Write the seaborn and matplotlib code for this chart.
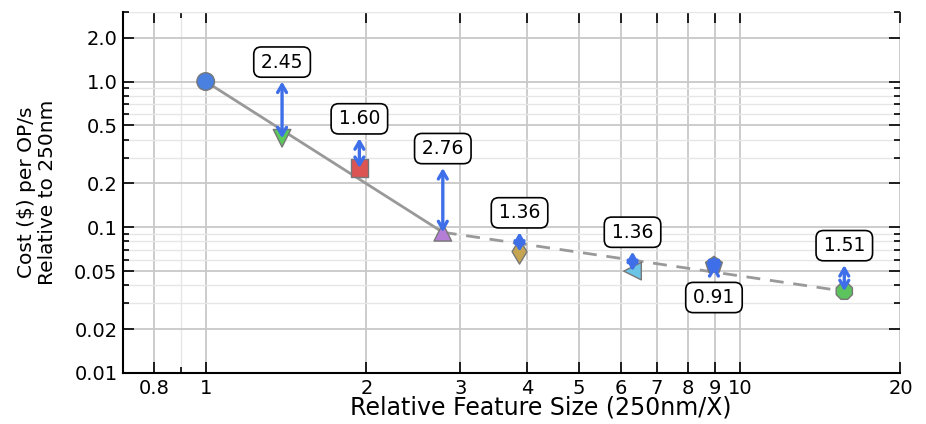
import numpy as np
import pandas as pd
import matplotlib
matplotlib.use("Agg")
import matplotlib.pyplot as plt
from matplotlib.ticker import FixedLocator, NullFormatter, LogLocator
import seaborn as sns

# ---- data ----
nodes = ["250nm", "180nm", "130nm", "90nm", "65nm", "40nm", "28nm", "16nm"]
rel_size = [1.0, 1.39, 1.94, 2.78, 3.87, 6.3, 8.95, 15.7]
cost = [1.0, 0.408, 0.255, 0.0924, 0.068, 0.050, 0.055, 0.0364]
ratio_labels = ["2.45", "1.60", "2.76", "1.36", "1.36", "0.91", "1.51"]

x_ticks = [0.8, 1, 2, 3, 4, 5, 6, 7, 8, 9, 10, 20]
x_tick_labels = ["0.8", "1", "2", "3", "4", "5", "6", "7", "8", "9", "10", "20"]
y_ticks = [0.01, 0.02, 0.05, 0.1, 0.2, 0.5, 1.0, 2.0]
y_tick_labels = ["0.01", "0.02", "0.05", "0.1", "0.2", "0.5", "1.0", "2.0"]

# ---- styles ----
marker_map = {"250nm": "o", "180nm": "v", "130nm": "s", "90nm": "^",
              "65nm": "d", "40nm": "<", "28nm": "p", "16nm": "8"}
color_map = {"250nm": "#4a80e0", "180nm": "#5cc95c", "130nm": "#dc5552",
             "90nm": "#b57ed6", "65nm": "#c6a552", "40nm": "#6bc3e6",
             "28nm": "#3f70e8", "16nm": "#5dc35d"}
arrow_blue = "#3f6fe8"

sns.set_style("ticks")
plt.rcParams["font.family"] = ["DejaVu Sans"]
plt.rcParams["text.color"] = "black"
plt.rcParams["axes.labelcolor"] = "black"
plt.rcParams["xtick.color"] = "black"
plt.rcParams["ytick.color"] = "black"

df = pd.DataFrame({"node": nodes, "size": rel_size, "cost": cost})

fig = plt.figure(figsize=(9.26, 4.24), dpi=100)
ax = fig.add_axes([0.1328, 0.1203, 0.8396, 0.8514])
ax.set_xscale("log")
ax.set_yscale("log")

# trend lines
sns.lineplot(x=[rel_size[0], rel_size[3]], y=[cost[0], cost[3]], ax=ax,
             color="#999999", lw=2, zorder=3)
sns.lineplot(x=[rel_size[3], rel_size[7]], y=[cost[3], cost[7]], ax=ax,
             color="#999999", lw=2, linestyle=(0, (5, 3.5)), zorder=3)

sns.scatterplot(data=df, x="size", y="cost", hue="node", style="node",
                markers=marker_map, palette=color_map, s=160,
                edgecolor="#777777", linewidth=1, legend=False, ax=ax, zorder=5)

# ratio arrows and boxed labels
for i, lab in enumerate(ratio_labels):
    xi = rel_size[i + 1]
    y_prev = cost[i]
    y_cur = cost[i + 1]
    ax.annotate("", xy=(xi, y_cur), xytext=(xi, y_prev),
                arrowprops=dict(arrowstyle="<->,head_length=0.55,head_width=0.32",
                                color=arrow_blue, lw=2.4, shrinkA=0, shrinkB=0),
                zorder=6)
    down = y_cur < y_prev
    off = 14 if down else -19
    ax.annotate("\u200a" + lab + "\u200a", xy=(xi, y_prev), xytext=(0, off),
                textcoords="offset points",
                ha="center", va="center", fontsize=13.5, color="black", zorder=7,
                bbox=dict(boxstyle="round,pad=0.3,rounding_size=0.4",
                          fc="white", ec="black", lw=1.2))

ax.set_xlim(0.7, 20)
ax.set_ylim(0.01, 3)

ax.xaxis.set_major_locator(FixedLocator(x_ticks))
ax.set_xticklabels(x_tick_labels)
ax.xaxis.set_minor_locator(FixedLocator([0.9]))
ax.xaxis.set_minor_formatter(NullFormatter())
ax.yaxis.set_major_locator(FixedLocator(y_ticks))
ax.set_yticklabels(y_tick_labels)
ax.yaxis.set_minor_locator(LogLocator(base=10, subs=np.arange(2, 10)))
ax.yaxis.set_minor_formatter(NullFormatter())

ax.grid(which="major", color="#c8c8c8", lw=1.3)
ax.grid(which="minor", color="#e6e6e6", lw=1.0)
ax.set_axisbelow(True)

ax.tick_params(which="both", direction="in", top=True, right=True, colors="black",
               labelsize=14, width=1.2)
ax.tick_params(which="major", length=8, pad=4)
ax.tick_params(which="minor", length=4)

for s in ["top", "right"]:
    ax.spines[s].set_visible(False)
for s in ["left", "bottom"]:
    ax.spines[s].set_color("black")
    ax.spines[s].set_linewidth(1.5)

ax.set_xlabel("Relative Feature Size (250nm/X)", fontsize=17, color="black")
ax.set_ylabel("Cost (\\$) per OP/s\nRelative to 250nm", fontsize=14.5,
              linespacing=1.15, color="black")
ax.xaxis.set_label_coords(0.537, -0.063)
ax.yaxis.set_label_coords(-0.085, 0.5)

fig.savefig("out.png", dpi=100)
